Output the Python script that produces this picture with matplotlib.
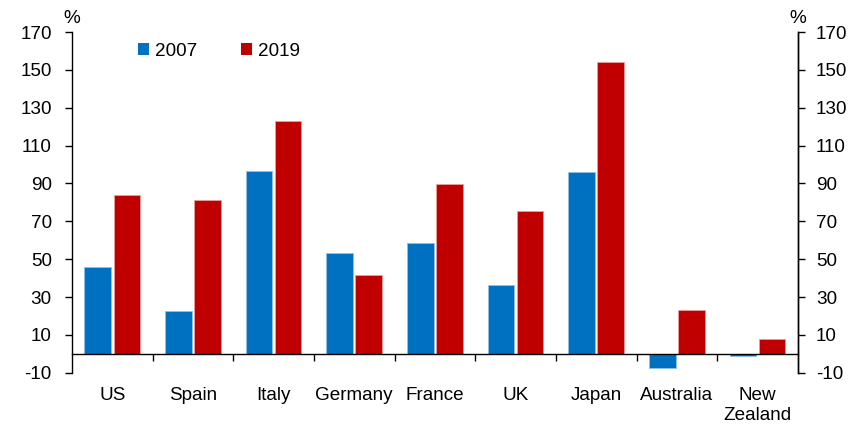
import matplotlib
matplotlib.use("Agg")
import matplotlib.pyplot as plt
import numpy as np
from matplotlib.patches import Patch

plt.rcParams['font.family'] = ['Liberation Sans', 'DejaVu Sans']
plt.rcParams['axes.unicode_minus'] = False

categories = ["US", "Spain", "Italy", "Germany", "France", "UK", "Japan", "Australia", "New\nZealand"]
v2007 = [45.8, 22.7, 96.4, 53.4, 58.3, 36.6, 96.2, -7.4, -1.1]
v2019 = [84.1, 81.1, 123.0, 41.4, 89.7, 75.4, 154.2, 23.0, 7.9]
yticks = [-10, 10, 30, 50, 70, 90, 110, 130, 150, 170]

blue = "#0070C0"
red = "#C00000"
fs = 13.6

fig = plt.figure(figsize=(8.57, 4.25), dpi=100)
ax = fig.add_axes([0.084, 0.123, 0.847, 0.8017])
x = np.arange(len(categories))
w = 0.33
off = 0.18
ax.bar(x - off, v2007, w, color=blue, edgecolor="#8fc0e8", linewidth=0.6, zorder=2)
ax.bar(x + off, v2019, w, color=red, edgecolor="#e8a0a0", linewidth=0.6, zorder=2)

ax.set_xlim(-0.5, len(categories) - 0.5)
ax.set_ylim(-10, 170)
ax.set_yticks(yticks)
ax.tick_params(axis='y', labelsize=fs, length=5, direction='out', color='black', width=1, pad=9.5)

ax.spines['top'].set_visible(False)
ax.spines['right'].set_visible(True)
ax.spines['bottom'].set_position(('data', 0))
for s in ['left', 'right', 'bottom']:
    ax.spines[s].set_linewidth(1)
    ax.spines[s].set_color('black')

ax.set_xticks(x)
ax.set_xticklabels(categories, fontsize=fs, linespacing=1.2)
ax.set_xticks(np.arange(0.5, len(categories) - 0.5, 1), minor=True)
ax.tick_params(axis='x', which='major', length=0, pad=24)
ax.tick_params(axis='x', which='minor', length=5, width=1, direction='out', color='black')

ax2 = ax.twinx()
ax2.set_ylim(-10, 170)
ax2.set_yticks(yticks)
ax2.tick_params(axis='y', labelsize=fs, length=5, direction='out', width=1, pad=8)
for s in ['top', 'bottom', 'left']:
    ax2.spines[s].set_visible(False)
ax2.spines['right'].set_linewidth(1)

ax.text(0.0, 1.015, "%", transform=ax.transAxes, fontsize=fs, ha='center', va='bottom')
ax.text(1.0, 1.015, "%", transform=ax.transAxes, fontsize=fs, ha='center', va='bottom')

handles = [Patch(facecolor=blue, edgecolor='none', label='2007'),
           Patch(facecolor=red, edgecolor='none', label='2019')]
fig.legend(handles=handles, loc='center left', bbox_to_anchor=(138/857, 1 - 51/425),
           ncol=2, frameon=False, fontsize=fs, handlelength=0.6, handleheight=0.6,
           handletextpad=0.3, columnspacing=2.3, borderpad=0, borderaxespad=0)

fig.savefig("out.png", dpi=100)
